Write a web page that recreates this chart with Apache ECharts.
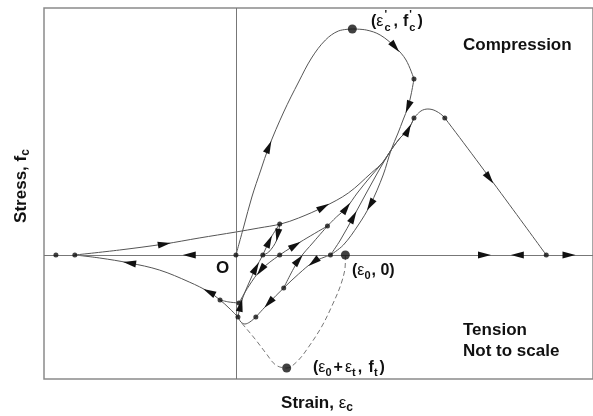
<!DOCTYPE html>
<html><head><meta charset="utf-8">
<script src="https://cdn.jsdelivr.net/npm/echarts/dist/echarts.min.js"></script>
<style>html,body{margin:0;padding:0;background:#fff}#c{width:593px;height:416px}</style>
</head><body><div id="c"></div>
<script>
// ---- data (strain, stress in arbitrary "not to scale" units) ----
const envelope      = [[0,0],[8,29],[16,58],[25,85],[33,108],[48,143],[63,173],[76,197],[90,215],[103,224],[117,226]];
const softening     = [[117,226],[131,225],[145,220],[160,208],[171,195],[179,176]];
const unloadA       = [[179,176],[176,160],[173,148],[168,135],[163,122],[156,105],[148,80],[135,50],[123,30],[108,10],[95,0]];
const reloadA       = [[95,0],[105,15],[118,38],[130,60],[140,78],[148,92],[156,105],[165,117],[173,125],[179,137]];
const secondPeak    = [[179,137],[186,144],[193,146],[201,144],[210,137],[312,0]];
const tensionUnload = [[95,0],[78,-7],[63,-19],[48,-33],[33,-48],[20,-62]];
const tensionBottom = [[20,-62],[14,-67],[9,-69],[5,-67],[2,-62]];
const lowerLeft     = [[2,-62],[-7,-53],[-16,-45],[-27,-37],[-47,-27],[-77,-15],[-107,-8],[-137,-3],[-162,0]];
const lowerBranch   = [[-16,-45],[-7,-47],[3,-48]];
const upperReload   = [[-162,0],[-117,5],[-72,11],[-37,17],[0,23],[23,27],[45,31],[63,37],[88,48],[113,62],[136,82],[148,93],[156,105],[165,117],[173,125],[179,137]];
const reloadB       = [[92,29],[101,38],[111,47],[122,62],[135,78],[147,92],[156,105]];
const unloadB       = [[92,29],[68,15],[44,0],[25,-15],[13,-31],[3,-48]];
const reloadC       = [[48,-33],[63,-5],[78,13],[92,29]];
const loopUp        = [[2,-62],[6,-45],[13,-28],[20,-13],[27,0],[35,17],[44,31]];
const loopDown      = [[44,31],[41,15],[33,3],[27,0]];
const zeroAxis      = [[-181,0],[-162,0],[0,0],[95,0],[312,0],[356,0]];
const tensionCurve  = [[110,0],[110,-8],[106,-28],[96,-52],[86,-72],[73,-92],[62,-106],[51,-113],[40,-110],[30,-98],[20,-85],[10,-73],[4,-66]];
const smallDots     = [[-181,0],[-162,0],[0,0],[27,0],[44,0],[95,0],[312,0],[44,31],[92,29],[48,-33],[20,-62],[2,-62],[3,-48],[-16,-45],[179,176],[179,137],[210,137]];
const bigDots       = [[117,226],[110,0],[51,-113]];
// arrows: [curve, segment, fraction along segment, direction]
const arrows = [
  ['envelope',4,0,1],['softening',3,0,1],['unloadA',2,0,1],['unloadA',7,0,1],
  ['reloadA',2,0,1],['reloadA',8,0,1],['secondPeak',4,0.44,1],
  ['upperReload',2,0,1],['upperReload',8,0,1],['reloadB',2,0,1],
  ['lowerLeft',3,0,1],['lowerLeft',6,0,1],['tensionUnload',1,0,1],['tensionUnload',4,0,1],
  ['unloadB',1,0.35,-1],['unloadB',3,0,1],['reloadC',1,0,1],
  ['loopUp',0,0.7,1],['loopUp',3,0,1],['loopUp',4,0.8,1],['loopDown',0,0.7,1],
  ['zeroAxis',1,0.71,-1],['zeroAxis',3,0.714,1],['zeroAxis',3,0.866,-1],['zeroAxis',4,0.52,1]
];

const curves = {envelope,softening,unloadA,reloadA,secondPeak,tensionUnload,tensionBottom,lowerLeft,lowerBranch,upperReload,reloadB,unloadB,reloadC,loopUp,loopDown,zeroAxis};
const drawn = ['envelope','softening','unloadA','reloadA','secondPeak','tensionUnload','tensionBottom','lowerLeft','lowerBranch','upperReload','reloadB','unloadB','reloadC','loopUp','loopDown'];

const arrowData = arrows.map(([n,s,t,d]) => {
  const a = curves[n][s], b = curves[n][s+1];
  return [a[0]+(b[0]-a[0])*t, a[1]+(b[1]-a[1])*t, (b[0]-a[0])*d, (b[1]-a[1])*d];
});

const FONT = '"Liberation Sans", Arial, sans-serif';
const mctx = document.createElement('canvas').getContext('2d');
function w(t, size, weight){ mctx.font = weight+' '+size+'px '+FONT; return mctx.measureText(t).width; }
// pieces: [text, size, weight, dy, advance, extraSpace]
function label(x, y, pieces, center, rotation){
  let total = 0;
  pieces.forEach(p => { if (p[4] !== false) total += w(p[0],p[1],p[2]) + (p[5]||0); });
  let cx = center ? -total/2 : 0;
  const children = [];
  pieces.forEach(p => {
    children.push({type:'text', x:cx, y:p[3], style:{text:p[0], font:p[2]+' '+p[1]+'px '+FONT, fill:'#111',
      align:'left', verticalAlign:'middle', textAlign:'left', textVerticalAlign:'middle'}});
    if (p[4] !== false) cx += w(p[0],p[1],p[2]) + (p[5]||0);
  });
  return {type:'group', x, y, rotation: rotation||0, children, silent:true};
}

const chart = echarts.init(document.getElementById('c'), null, {renderer:'canvas'});
const lineSeries = drawn.map(n => ({
  type:'line', data:curves[n], showSymbol:false, smooth:0.35, silent:true,
  lineStyle:{color:'#555', width:1}, z:3
}));

const option = {
  animation:false,
  grid:{left:44, top:8, right:-3, bottom:37, show:true, borderColor:'#8a8a8a', borderWidth:1.5},
  xAxis:{type:'value', min:-193, max:359, show:true, axisLine:{show:false}, axisTick:{show:false}, axisLabel:{show:false}, splitLine:{show:false}},
  yAxis:{type:'value', min:-124, max:247, show:true, axisLine:{show:false}, axisTick:{show:false}, axisLabel:{show:false}, splitLine:{show:false}},
  series:[
    {type:'line', data:[], silent:true,
     markLine:{silent:true, symbol:'none', label:{show:false}, lineStyle:{color:'#777', width:1, type:'solid'},
       data:[{yAxis:0},{xAxis:0}]}},
    ...lineSeries,
    {type:'line', data:tensionCurve, showSymbol:false, smooth:0.35, silent:true, lineStyle:{color:'#777', width:1, type:[5,3]}, z:3},
    {type:'scatter', data:smallDots, symbolSize:5, itemStyle:{color:'#111'}, silent:true, z:5},
    {type:'scatter', data:bigDots, symbolSize:9, itemStyle:{color:'#111'}, silent:true, z:5},
    {type:'custom', data:arrowData, silent:true, z:6, encode:{x:0,y:1},
     renderItem:function(params, api){
       const p = api.coord([api.value(0), api.value(1)]);
       const q = api.coord([api.value(0)+api.value(2), api.value(1)+api.value(3)]);
       let ux = q[0]-p[0], uy = q[1]-p[1]; const len = Math.hypot(ux,uy)||1; ux/=len; uy/=len;
       const L = 13, W = 7;
       const tip = [p[0]+ux*L/2, p[1]+uy*L/2];
       const bx = p[0]-ux*L/2, by = p[1]-uy*L/2;
       return {type:'polygon', shape:{points:[tip,[bx-uy*W/2, by+ux*W/2],[bx+uy*W/2, by-ux*W/2]]}, style:{fill:'#111'}};
     }}
  ],
  graphic:[
    label(371, 22, [['(',16,'bold',0],['ε',16,'normal',0,true,1],["'",11,'bold',-7,false],['c',11,'bold',6,true,3],[',',16,'bold',0,true,5],['f',16,'bold',0,true,1],["'",11,'bold',-7,false],['c',11,'bold',6,true,2],[')',16,'bold',0]]),
    label(463, 45, [['Compression',17,'bold',0]]),
    label(463, 330, [['Tension',17,'bold',0]]),
    label(463, 351, [['Not to scale',17,'bold',0]]),
    label(216, 268, [['O',17,'bold',0]]),
    label(352, 271, [['(',16,'bold',0],['ε',16,'normal',0],['0',11,'bold',5,true,1],[', 0)',16,'bold',0]]),
    label(313, 368, [['(',16,'bold',0],['ε',16,'normal',0],['0',11,'bold',5,true,2],['+',16,'bold',0,true,2],['ε',16,'normal',0],['t',11,'bold',5,true,2],[', ',16,'bold',0,true,2],['f',16,'bold',0],['t',11,'bold',5,true,2],[')',16,'bold',0]]),
    label(317, 403, [['Strain, ',17,'bold',0],['ε',17,'normal',0],['c',12,'bold',5]], true),
    label(21, 186, [['Stress, f',17,'bold',0],['c',12,'bold',5]], true, Math.PI/2)
  ]
};
chart.setOption(option);
</script>
</body></html>
